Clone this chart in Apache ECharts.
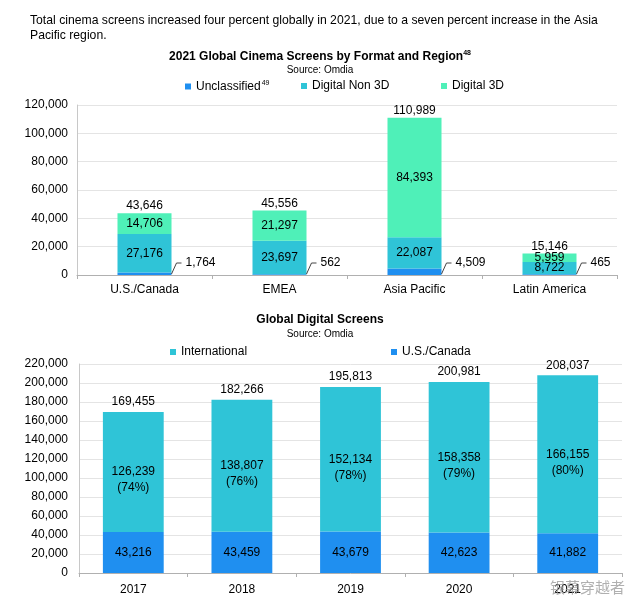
<!DOCTYPE html>
<html>
<head>
<meta charset="utf-8">
<script src="https://cdn.jsdelivr.net/npm/echarts@6/dist/echarts.min.js"></script>
<style>
html,body{margin:0;padding:0;background:#fff;}
#chart{width:640px;height:613px;}
</style>
</head>
<body>
<div id="chart"></div>
<script>
// ---- Data: chart 1 ----
const topCategories = ['U.S./Canada', 'EMEA', 'Asia Pacific', 'Latin America'];
const unclassified = [1764, 562, 4509, 465];
const digitalNon3D = [27176, 23697, 22087, 8722];
const digital3D = [14706, 21297, 84393, 5959];
const topTotals = [43646, 45556, 110989, 15146];
const topYMax = 120000;
const topYInterval = 20000;

// ---- Data: chart 2 ----
const years = ['2017', '2018', '2019', '2020', '2021'];
const usCanada = [43216, 43459, 43679, 42623, 41882];
const international = [126239, 138807, 152134, 158358, 166155];
const intlPct = [74, 76, 78, 79, 80];
const bottomTotals = [169455, 182266, 195813, 200981, 208037];
const bottomYMax = 220000;
const bottomYInterval = 20000;

const FONT = '"Liberation Sans", Arial, Helvetica, sans-serif';
const C_BLUE = '#1f8ff0';
const C_CYAN = '#2fc4d7';
const C_MINT = '#4ff0b8';
const fmt = v => Number(v).toLocaleString('en-US');

const chart = echarts.init(document.getElementById('chart'), null, {renderer: 'canvas'});

const option = {
  backgroundColor: '#fff',
  animation: false,
  textStyle: {fontFamily: FONT},
  graphic: [
    {
      type: 'text', left: 30, top: 13,
      style: {
        text: 'Total cinema screens increased four percent globally in 2021, due to a seven percent increase in the Asia\nPacific region.',
        font: '12.2px ' + FONT, fill: '#000', lineHeight: 15
      }
    },
    {
      type: 'text', left: 550, top: 580, z: 100,
      style: {text: '银幕穿越者', font: '15px "Noto Sans CJK SC"', fill: 'rgba(150,150,150,0.75)'}
    }
  ],
  title: [
    {
      text: '{t|2021 Global Cinema Screens by Format and Region}{s|48}',
      left: 'center', top: 50, padding: 0,
      textStyle: {
        rich: {
          t: {fontFamily: FONT, fontWeight: 'bold', fontSize: 12, color: '#000'},
          s: {fontFamily: FONT, fontWeight: 'bold', fontSize: 7, color: '#000', verticalAlign: 'top', padding: [0, 0, 6, 0]}
        }
      }
    },
    {
      text: 'Source: Omdia', left: 'center', top: 65, padding: 0,
      textStyle: {fontFamily: FONT, fontWeight: 'normal', fontSize: 10, color: '#000'}
    },
    {
      text: 'Global Digital Screens', left: 'center', top: 314, padding: 0,
      textStyle: {fontFamily: FONT, fontWeight: 'bold', fontSize: 12, color: '#000'}
    },
    {
      text: 'Source: Omdia', left: 'center', top: 329, padding: 0,
      textStyle: {fontFamily: FONT, fontWeight: 'normal', fontSize: 10, color: '#000'}
    }
  ],
  legend: [
    {data: ['Unclassified'], left: 185, top: 80, padding: 0, icon: 'rect', itemWidth: 6, itemHeight: 6,
     formatter: n => '{n|' + n + '}{s|49}',
     textStyle: {rich: {n: {fontFamily: FONT, fontSize: 12, color: '#000'}, s: {fontFamily: FONT, fontSize: 7, color: '#000', verticalAlign: 'top', padding: [0, 0, 6, 1]}}}},
    {data: ['Digital Non 3D'], left: 301, top: 80, padding: 0, icon: 'rect', itemWidth: 6, itemHeight: 6,
     textStyle: {fontFamily: FONT, fontSize: 12, color: '#000'}},
    {data: ['Digital 3D'], left: 441, top: 80, padding: 0, icon: 'rect', itemWidth: 6, itemHeight: 6,
     textStyle: {fontFamily: FONT, fontSize: 12, color: '#000'}},
    {data: ['International'], left: 170, top: 346, padding: 0, icon: 'rect', itemWidth: 6, itemHeight: 6,
     textStyle: {fontFamily: FONT, fontSize: 12, color: '#000'}},
    {data: ['U.S./Canada'], left: 391, top: 346, padding: 0, icon: 'rect', itemWidth: 6, itemHeight: 6,
     textStyle: {fontFamily: FONT, fontSize: 12, color: '#000'}}
  ],
  grid: [
    {left: 77, right: 23, top: 105, height: 170},
    {left: 79, right: 18, top: 364, height: 209}
  ],
  xAxis: [
    {
      type: 'category', gridIndex: 0, data: topCategories,
      axisLine: {lineStyle: {color: '#b0b0b0'}},
      axisTick: {show: true, length: 4, lineStyle: {color: '#b0b0b0'}},
      axisLabel: {fontFamily: FONT, fontSize: 12, color: '#000', margin: 9}
    },
    {
      type: 'category', gridIndex: 1, data: years,
      axisLine: {lineStyle: {color: '#b0b0b0'}},
      axisTick: {show: true, length: 4, lineStyle: {color: '#b0b0b0'}},
      axisLabel: {fontFamily: FONT, fontSize: 12, color: '#000', margin: 11}
    }
  ],
  yAxis: [
    {
      type: 'value', gridIndex: 0, min: 0, max: topYMax, interval: topYInterval,
      axisLine: {show: true, lineStyle: {color: '#c8c8c8'}},
      axisTick: {show: false},
      splitLine: {lineStyle: {color: '#e4e4e4'}},
      axisLabel: {fontFamily: FONT, fontSize: 12, color: '#000', margin: 9, formatter: v => fmt(v)}
    },
    {
      type: 'value', gridIndex: 1, min: 0, max: bottomYMax, interval: bottomYInterval,
      axisLine: {show: true, lineStyle: {color: '#c8c8c8'}},
      axisTick: {show: false},
      splitLine: {lineStyle: {color: '#e4e4e4'}},
      axisLabel: {fontFamily: FONT, fontSize: 12, color: '#000', margin: 11, formatter: v => fmt(v)}
    }
  ],
  series: [
    // ---- chart 1 ----
    {
      name: 'Unclassified', type: 'bar', stack: 'top', xAxisIndex: 0, yAxisIndex: 0,
      data: unclassified, barWidth: '40%', barGap: '-100%', z: 3,
      itemStyle: {color: C_BLUE},
      label: {show: false}
    },
    {
      name: 'Digital Non 3D', type: 'bar', stack: 'top', xAxisIndex: 0, yAxisIndex: 0,
      data: digitalNon3D, barWidth: '40%', barGap: '-100%', z: 3,
      itemStyle: {color: C_CYAN},
      label: {show: true, position: 'inside', fontFamily: FONT, fontSize: 12, color: '#000', formatter: p => fmt(p.value)}
    },
    {
      name: 'Digital 3D', type: 'bar', stack: 'top', xAxisIndex: 0, yAxisIndex: 0,
      data: digital3D, barWidth: '40%', barGap: '-100%', z: 3,
      itemStyle: {color: C_MINT},
      label: {show: true, position: 'inside', fontFamily: FONT, fontSize: 12, color: '#000', formatter: p => fmt(p.value)}
    },
    {
      name: 'Total (format)', type: 'bar', xAxisIndex: 0, yAxisIndex: 0,
      data: topTotals, barWidth: '40%', barGap: '-100%', z: 1, silent: true,
      itemStyle: {color: 'rgba(0,0,0,0)'},
      label: {show: true, position: 'top', distance: 1, fontFamily: FONT, fontSize: 12, color: '#000', formatter: p => fmt(p.value)}
    },
    {
      name: 'Unclassified labels', type: 'custom', xAxisIndex: 0, yAxisIndex: 0, z: 5, silent: true,
      data: unclassified.map((v, i) => [i, v]),
      renderItem: function (params, api) {
        const idx = api.value(0);
        const val = api.value(1);
        const base = api.coord([idx, 0]);
        const band = api.size([1, 0])[0];
        const R = base[0] + band * 0.2;
        const y0 = base[1];
        return {
          type: 'group',
          children: [
            {type: 'polyline', shape: {points: [[R, y0 - 1], [R + 5, y0 - 12], [R + 10, y0 - 12]]},
             style: {stroke: '#444', fill: null, lineWidth: 1}},
            {type: 'text', style: {text: fmt(val), x: R + 14, y: y0 - 12, align: 'left', verticalAlign: 'middle',
             fontFamily: FONT, fontSize: 12, fill: '#000'}}
          ]
        };
      }
    },
    // ---- chart 2 ----
    {
      name: 'U.S./Canada', type: 'bar', stack: 'bottom', xAxisIndex: 1, yAxisIndex: 1,
      data: usCanada, barWidth: '56%', barGap: '-100%', z: 3,
      itemStyle: {color: C_BLUE},
      label: {show: true, position: 'inside', fontFamily: FONT, fontSize: 12, color: '#000', formatter: p => fmt(p.value)}
    },
    {
      name: 'International', type: 'bar', stack: 'bottom', xAxisIndex: 1, yAxisIndex: 1,
      data: international, barWidth: '56%', barGap: '-100%', z: 3,
      itemStyle: {color: C_CYAN},
      label: {show: true, position: 'inside', offset: [0, 8], lineHeight: 16, fontFamily: FONT, fontSize: 12, color: '#000',
              formatter: p => fmt(p.value) + '\n(' + intlPct[p.dataIndex] + '%)'}
    },
    {
      name: 'Total (digital)', type: 'bar', xAxisIndex: 1, yAxisIndex: 1,
      data: bottomTotals, barWidth: '56%', barGap: '-100%', z: 1, silent: true,
      itemStyle: {color: 'rgba(0,0,0,0)'},
      label: {show: true, position: 'top', distance: 4, fontFamily: FONT, fontSize: 12, color: '#000', formatter: p => fmt(p.value)}
    }
  ]
};

chart.setOption(option);
</script>
</body>
</html>
